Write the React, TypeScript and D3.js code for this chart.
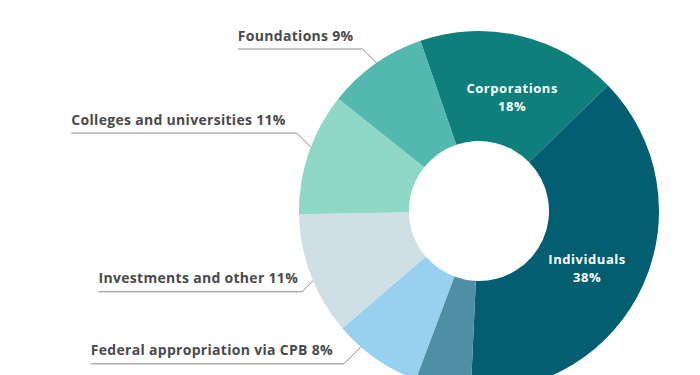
import React, { useEffect, useRef } from "react";
import * as d3 from "d3";

const categories = [
  "Corporations",
  "Individuals",
  "State and local",
  "Federal appropriation via CPB",
  "Investments and other",
  "Colleges and universities",
  "Foundations",
];
const values = [18, 38, 5, 8, 11, 11, 9];
const colors = ["#0f7f7b", "#035e71", "#4f8fa6", "#98d1ef", "#d0dfe6", "#8fd8c6", "#52b8b0"];
// label style: "inside" = white two-line label, "outside" = leader line label, "none" = unlabeled
const labelKinds = ["inside", "inside", "none", "outside", "outside", "outside", "outside"];

// layout tweaks for leader lines (angle offset in degrees from slice middle, diagonal length, gap text->corner)
const leaderLayout: Record<string, { dAngle: number; diag: number; gap: number }> = {
  "Federal appropriation via CPB": { dAngle: 6, diag: 17, gap: 11 },
  "Investments and other": { dAngle: -2, diag: 11, gap: 4 },
  "Colleges and universities": { dAngle: 2, diag: 14, gap: 11 },
  Foundations: { dAngle: 0.5, diag: 14, gap: 9 },
};

const W = 700;
const H = 375;
const FONT = "'Open Sans', sans-serif";

export default function App() {
  const ref = useRef<SVGSVGElement | null>(null);

  useEffect(() => {
    const svg = d3.select(ref.current);
    svg.selectAll("*").remove();
    const cx = 479;
    const cy = 211;
    const R = 180;
    const r = 70;
    const deg = Math.PI / 180;
    const data = categories.map((c, i) => ({ name: c, value: values[i], color: colors[i], kind: labelKinds[i] }));
    const pie = d3
      .pie<any>()
      .value((d) => d.value)
      .sort(null)
      .startAngle(-19 * deg)
      .endAngle((360 - 19) * deg);
    const arcs = pie(data);
    const arc = d3.arc<any>().innerRadius(r).outerRadius(R);
    const g = svg.append("g").attr("transform", `translate(${cx},${cy})`);
    g.selectAll("path")
      .data(arcs)
      .join("path")
      .attr("d", arc as any)
      .attr("fill", (d: any) => d.data.color);

    // inside labels
    const labelArc = d3.arc<any>().innerRadius(121).outerRadius(121);
    arcs
      .filter((a) => a.data.kind === "inside")
      .forEach((a) => {
        const [x, y] = labelArc.centroid({ ...a, startAngle: a.startAngle + 2.5 * deg, endAngle: a.endAngle + 2.5 * deg });
        const lab = g.append("g");
        const common = (s: any) =>
          s
            .attr("text-anchor", "middle")
            .attr("fill", "#ffffff")
            .attr("font-family", FONT)
            .attr("font-weight", 700)
            .attr("font-size", 13)
            .attr("letter-spacing", 0.55);
        common(lab.append("text")).attr("x", x).attr("y", y - 1.5).text(a.data.name);
        common(lab.append("text")).attr("x", x).attr("y", y + 16.5).text(`${a.data.value}%`);
      });

    // outside labels with leader lines
    const tol = svg.append("g");
    arcs
      .filter((a) => a.data.kind === "outside")
      .forEach((a) => {
        const lay = leaderLayout[a.data.name] || { dAngle: 0, diag: 14, gap: 9 };
        const mid = (a.startAngle + a.endAngle) / 2 + lay.dAngle * deg;
        const ex = cx + R * Math.sin(mid);
        const ey = cy - R * Math.cos(mid);
        const up = Math.cos(mid) > 0; // upper half
        const kx = ex - lay.diag;
        const ky = up ? ey - lay.diag : ey + lay.diag;
        const text = tol
          .append("text")
          .attr("x", kx - lay.gap)
          .attr("y", ky - 8.5)
          .attr("text-anchor", "end")
          .attr("fill", "#4a4a4c")
          .attr("font-family", FONT)
          .attr("font-weight", 700)
          .attr("font-size", 14)
          .attr("letter-spacing", 0.3)
          .text(`${a.data.name} ${a.data.value}%`);
        const w = (text.node() as SVGTextElement).getComputedTextLength();
        const sx = kx - lay.gap - w;
        tol
          .append("path")
          .attr("d", `M${sx},${ky}L${kx},${ky}L${ex},${ey}`)
          .attr("fill", "none")
          .attr("stroke", "#8a8a8a")
          .attr("stroke-width", 1);
      });
  }, []);

  return (
    <svg
      ref={ref}
      width={W}
      height={H}
      style={{ position: "absolute", left: 0, top: 0, background: "#ffffff" }}
    />
  );
}
